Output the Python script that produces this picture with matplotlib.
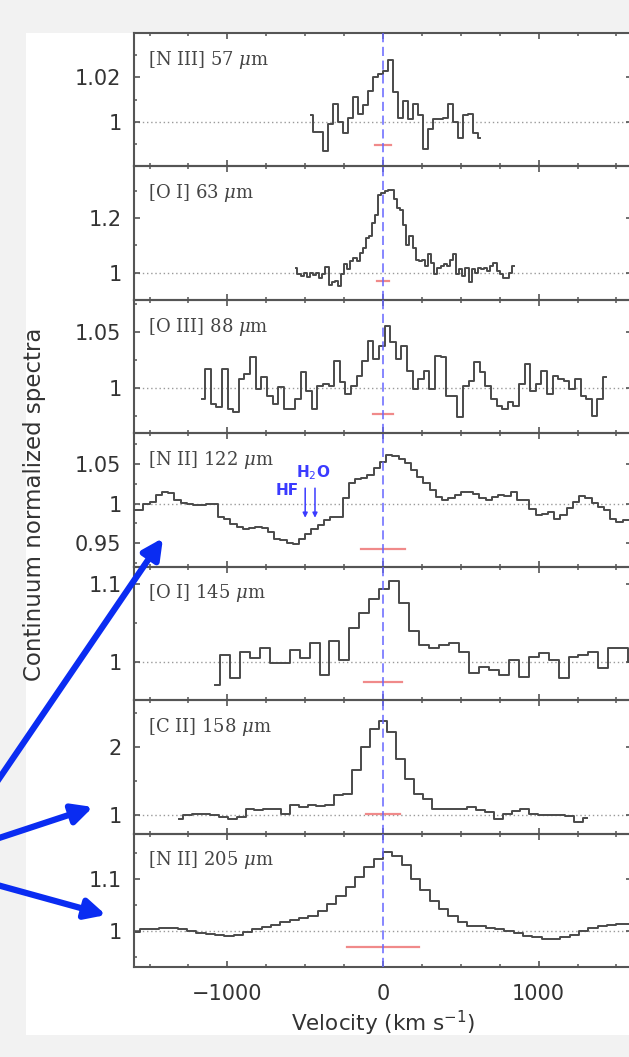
import numpy as np
import matplotlib.pyplot as plt
from matplotlib.patches import Rectangle, FancyArrowPatch
from matplotlib.ticker import MultipleLocator

plt.rcParams['mathtext.fontset'] = 'dejavuserif'

# ---- data ----
labels = ['[N III] 57 $\\mu$m', '[O I] 63 $\\mu$m', '[O III] 88 $\\mu$m',
          '[N II] 122 $\\mu$m', '[O I] 145 $\\mu$m', '[C II] 158 $\\mu$m',
          '[N II] 205 $\\mu$m']

# first bin centre and bin width (km/s) of each spectrum
v_start = [-464, -560, -1160, -1600, -1080, -1311, -1590]
v_step = [32, 20, 36, 40, 64, 57, 60]

flux_n3_57 = [1.003, 0.9956, 0.9956, 0.987, 0.999, 1.008, 1.0, 0.995, 1.002, 1.011,
              1.0037, 1.0074, 1.014, 1.02, 1.0215, 1.023, 1.028, 1.0133, 1.002, 1.0096,
              1.0015, 1.008, 1.003, 0.988, 0.997, 1.0015, 1.0015, 1.002, 1.008, 1.0,
              0.9926, 1.003, 1.0037, 0.995, 0.9926]
flux_o1_63 = [1.018, 0.994, 0.988, 1.0, 0.985, 0.997, 0.99, 1.0, 0.982, 0.994,
              1.022, 0.954, 0.964, 0.97, 0.952, 0.994, 1.03, 1.012, 1.042, 1.055,
              1.043, 1.073, 1.09, 1.127, 1.133, 1.182, 1.212, 1.285, 1.291, 1.30,
              1.303, 1.303, 1.27, 1.236, 1.23, 1.176, 1.10, 1.133, 1.09, 1.048,
              1.042, 1.048, 1.024, 1.067, 1.036, 0.994, 1.018, 1.024, 1.03, 1.024,
              1.048, 1.07, 0.994, 1.012, 0.988, 1.018, 0.964, 1.012, 1.0, 1.018,
              1.012, 1.018, 1.006, 1.024, 1.036, 1.006, 0.994, 0.982, 0.982, 1.0,
              1.026]
flux_o3_88 = [0.9905, 1.0173, 0.986, 0.983, 1.0173, 0.9815, 0.9786, 1.0083, 1.0128, 1.0277,
              0.9994, 1.0098, 0.9935, 0.986, 1.0009, 0.9815, 0.9815, 0.9905, 1.0143, 0.9979,
              0.9815, 1.0024, 1.0039, 1.0024, 1.0247, 1.0054, 0.995, 1.0024, 1.0113, 1.0247,
              1.0426, 1.0262, 1.0381, 1.056, 1.0411, 1.0262, 1.0381, 1.0158, 0.9994, 1.0083,
              1.0158, 0.9994, 1.0292, 1.0277, 0.9935, 0.9935, 0.9741, 1.0024, 1.0068, 1.0232,
              1.0143, 1.0024, 0.9905, 0.9845, 0.9815, 0.9875, 0.9845, 1.0039, 1.0217, 0.9979,
              1.0039, 1.0158, 0.995, 1.0113, 1.0083, 1.0068, 0.9994, 1.0083, 0.9935, 0.9905,
              0.9756, 0.9905, 1.0098]
flux_n2_122 = [0.9915, 0.9915, 1.0, 1.0021, 1.0106, 1.0149, 1.0128, 1.0043, 1.0009, 1.0,
               0.9979, 0.9979, 0.9992, 1.0, 0.983, 0.9809, 0.9745, 0.9703, 0.9681, 0.9694,
               0.9703, 0.9694, 0.9639, 0.9554, 0.9533, 0.9499, 0.949, 0.9554, 0.9618, 0.9681,
               0.9724, 0.9788, 0.983, 0.983, 1.0064, 1.0255, 1.0306, 1.0319, 1.0361, 1.0446,
               1.0531, 1.0616, 1.0604, 1.0561, 1.051, 1.0425, 1.034, 1.0255, 1.017, 1.0085,
               1.0043, 1.0064, 1.0106, 1.0149, 1.0149, 1.0119, 1.0064, 1.0043, 1.0077, 1.0106,
               1.0094, 1.0149, 1.0051, 1.0043, 0.9936, 0.9851, 0.9873, 0.9894, 0.9809, 0.9851,
               0.9949, 1.0021, 1.0094, 1.0064, 1.0009, 0.9958, 0.9924, 0.9809, 0.9766, 0.9788,
               0.9788]
flux_o1_145 = [0.9696, 1.0087, 0.9783, 1.013, 1.0044, 1.0174, 0.9978, 0.9978, 1.0152, 1.0044,
               1.0239, 0.9826, 1.0261, 1.0022, 1.0435, 1.0631, 1.0805, 1.0935, 1.1044, 1.0761,
               1.0392, 1.0218, 1.0174, 1.0218, 1.0239, 1.013, 0.9848, 0.9935, 0.9891, 0.9826,
               1.0022, 0.9804, 1.0065, 1.0109, 1.0022, 0.9783, 1.0065, 1.0087, 1.013, 0.9913,
               1.0174, 1.0174, 1.0]
flux_c2_158 = [0.951, 1.0, 1.015, 1.024, 1.0, 0.976, 0.951, 0.976, 1.097, 1.073,
               1.097, 1.097, 1.024, 1.146, 1.122, 1.156, 1.136, 1.156, 1.292, 1.317,
               1.658, 1.999, 2.267, 2.389, 2.218, 1.828, 1.536, 1.317, 1.244, 1.097,
               1.097, 1.097, 1.088, 1.122, 1.073, 1.049, 0.951, 1.024, 1.058, 1.097,
               1.024, 1.01, 1.0, 1.0, 0.99, 0.903, 0.961]
flux_n2_205 = [0.9968, 1.0026, 1.0039, 1.0052, 1.0045, 1.0032, 1.0, 0.9961, 0.9929, 0.991,
               0.9903, 0.9923, 0.9968, 1.0032, 1.0071, 1.011, 1.0161, 1.0206, 1.0239, 1.0277,
               1.0387, 1.0516, 1.0677, 1.0839, 1.1032, 1.1226, 1.1387, 1.1516, 1.1438, 1.1258,
               1.1, 1.0774, 1.058, 1.0419, 1.029, 1.0174, 1.0097, 1.0084, 1.0058, 1.0032,
               0.9994, 0.9948, 0.9903, 0.9871, 0.9845, 0.9839, 0.9871, 0.9923, 0.9994, 1.0045,
               1.009, 1.0116, 1.0129, 1.0129]
fluxes = [flux_n3_57, flux_o1_63, flux_o3_88, flux_n2_122, flux_o1_145, flux_c2_158, flux_n2_205]

ylims = [(0.98, 1.04), (0.9, 1.39), (0.96, 1.079), (0.92, 1.089),
         (0.95, 1.123), (0.73, 2.69), (0.93, 1.187)]
yticks = [[1, 1.02], [1, 1.2], [1, 1.05], [0.95, 1, 1.05], [1, 1.1], [1, 2], [1, 1.1]]
yticklabels = [['1', '1.02'], ['1', '1.2'], ['1', '1.05'], ['0.95', '1', '1.05'],
               ['1', '1.1'], ['1', '2'], ['1', '1.1']]
yminor = [0.01, 0.1, 0.025, 0.025, 0.05, 0.5, 0.05]

# spectral resolution bars: half width (km/s) and level
res_halfwidth = [50, 40, 65, 140, 125, 110, 230]
res_level = [0.9896, 0.97, 0.977, 0.943, 0.973, 1.024, 0.968]

# ---- figure ----
W, H = 629, 1057
fig = plt.figure(figsize=(W / 100, H / 100), dpi=100, facecolor='#f2f2f2')
fig.patches.append(Rectangle((26 / W, 1 - 1035 / H), (W - 26) / W, (1035 - 33) / H,
                             transform=fig.transFigure, facecolor='white',
                             edgecolor='none', zorder=-5))

ax_left, ax_right = 134, 632
top, bottom = 33, 967
ph = (bottom - top) / 7.0
spec_col = '#4a4a4a'
axes = []
for i in range(7):
    y0 = 1 - (top + ph * (i + 1)) / H
    ax = fig.add_axes([ax_left / W, y0, (ax_right - ax_left) / W, ph / H])
    ax.patch.set_alpha(0)
    v = v_start[i] + v_step[i] * np.arange(len(fluxes[i]))
    ax.plot(v, fluxes[i], drawstyle='steps-mid', color=spec_col, lw=1.4, zorder=3)
    ax.axhline(1, color='#9a9a9a', ls=(0, (1, 2)), lw=1, zorder=1)
    ax.axvline(0, color='#6666ff', ls=(0, (6, 3)), lw=1.1, zorder=4)
    ax.plot([-res_halfwidth[i], res_halfwidth[i]], [res_level[i]] * 2,
            color='#f08a8a', lw=1.6, zorder=2)
    ax.set_xlim(-1600, 1600)
    ax.set_ylim(*ylims[i])
    ax.set_xticks([-1000, 0, 1000])
    ax.xaxis.set_minor_locator(MultipleLocator(250))
    ax.set_yticks(yticks[i])
    ax.set_yticklabels(yticklabels[i])
    ax.yaxis.set_minor_locator(MultipleLocator(yminor[i]))
    ax.tick_params(which='both', direction='in', top=True, right=True,
                   color='#555555', labelcolor='#333333', labelsize=15)
    ax.tick_params(which='major', length=4, width=1.2)
    ax.tick_params(which='minor', length=2.2, width=1.1)
    ax.tick_params(axis='y', pad=9)
    ax.tick_params(axis='x', pad=12)
    if i < 6:
        ax.set_xticklabels([])
    for s in ax.spines.values():
        s.set_color('#555555')
        s.set_linewidth(1.5)
    ax.text(0.028, 0.80, labels[i], transform=ax.transAxes, fontsize=13,
            family='DejaVu Serif', color='#444444', va='center', ha='left')
    axes.append(ax)

# HF / H2O markers in the [N II] 122 panel
blue_txt = '#3b3bff'
ax4 = axes[3]
for xv in [-500, -437]:
    ax4.annotate('', xy=(xv, 0.982), xytext=(xv, 1.0195),
                 arrowprops=dict(arrowstyle='-|>', color=blue_txt, lw=1.1,
                                 mutation_scale=7, shrinkA=0, shrinkB=0))
ax4.text(-540, 1.017, 'HF', color=blue_txt, fontsize=11, fontweight='bold',
         ha='right', va='center')
ax4.text(-450, 1.039, 'H$_2$O', color=blue_txt, fontsize=11, fontweight='bold',
         ha='center', va='center', math_fontfamily='dejavusans')

axes[-1].set_xlabel('Velocity (km s$^{-1}$)', fontsize=15.5, color='#333333', labelpad=4,
                    math_fontfamily='dejavusans')
fig.text(35 / W, 1 - 504 / H, 'Continuum normalized spectra', rotation=90,
         fontsize=16.5, color='#333333', ha='center', va='center')

# thick blue pointer arrows overlaid on the slide
arrow_col = '#0a2cf2'
pointers = [((-10, 792), (163, 538)), ((-10, 841), (93, 807)), ((-10, 883), (106, 915))]
for (x0, y0), (x1, y1) in pointers:
    arr = FancyArrowPatch((x0 / W, 1 - y0 / H), (x1 / W, 1 - y1 / H),
                          transform=fig.transFigure, arrowstyle='-|>',
                          mutation_scale=30, lw=4.5, color=arrow_col,
                          shrinkA=0, shrinkB=0, zorder=10)
    fig.add_artist(arr)

fig.savefig('out.png', dpi=100, facecolor=fig.get_facecolor())
